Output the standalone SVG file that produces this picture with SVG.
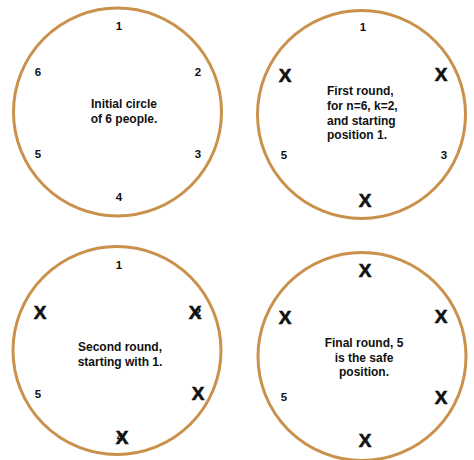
<svg xmlns="http://www.w3.org/2000/svg" width="474" height="460" viewBox="0 0 474 460">
<style>
.ring{fill:none;stroke:#C9914B;stroke-width:3}
.n{font-family:"Liberation Sans",Arial,sans-serif;font-weight:bold;font-size:11.5px;fill:#111;text-anchor:middle}
.x{font-family:"Liberation Sans",Arial,sans-serif;font-weight:bold;font-size:19px;fill:#111;text-anchor:middle;stroke:#111;stroke-width:0.6}
.t{font-family:"Liberation Sans",Arial,sans-serif;font-weight:bold;font-size:12px;fill:#111}
</style>
<rect width="474" height="460" fill="#fff"/>
<g id="circle1">
<circle class="ring" cx="117.5" cy="112" r="104"/>
<text class="n" x="119" y="30">1</text>
<text class="n" x="38" y="76">6</text>
<text class="n" x="198" y="76">2</text>
<text class="n" x="38" y="158">5</text>
<text class="n" x="198" y="158">3</text>
<text class="n" x="119" y="201">4</text>
<text class="t" x="124" y="108" text-anchor="middle">Initial circle</text>
<text class="t" x="124" y="123" text-anchor="middle">of 6 people.</text>
</g>
<g id="circle2">
<circle class="ring" cx="361.5" cy="114.5" r="104"/>
<text class="n" x="363" y="31">1</text>
<text class="x" x="285" y="82">X</text>
<text class="x" x="441" y="81">X</text>
<text class="n" x="284" y="159">5</text>
<text class="n" x="444" y="159">3</text>
<text class="x" x="365" y="207">X</text>
<text class="t" x="327" y="95">First round,</text>
<text class="t" x="327" y="110">for n=6, k=2,</text>
<text class="t" x="327" y="125">and starting</text>
<text class="t" x="327" y="139">position 1.</text>
</g>
<g id="circle3">
<circle class="ring" cx="117" cy="350.5" r="104"/>
<text class="n" x="119" y="269">1</text>
<text class="x" x="40" y="319">X</text>
<text class="n" x="198" y="316">2</text>
<text class="x" x="195" y="319">X</text>
<text class="x" x="198" y="400">X</text>
<text class="n" x="120" y="441">4</text>
<text class="x" x="122" y="444">X</text>
<text class="n" x="38" y="398">5</text>
<text class="t" x="120" y="351" text-anchor="middle">Second round,</text>
<text class="t" x="120" y="366" text-anchor="middle">starting with 1.</text>
</g>
<g id="circle4">
<circle class="ring" cx="362" cy="356.5" r="104"/>
<text class="x" x="365" y="277">X</text>
<text class="x" x="285" y="324">X</text>
<text class="x" x="441" y="323">X</text>
<text class="n" x="284" y="401">5</text>
<text class="x" x="441" y="404">X</text>
<text class="x" x="365" y="447">X</text>
<text class="t" x="364" y="347" text-anchor="middle">Final round, 5</text>
<text class="t" x="364" y="362" text-anchor="middle">is the safe</text>
<text class="t" x="364" y="376" text-anchor="middle">position.</text>
</g>
</svg>
